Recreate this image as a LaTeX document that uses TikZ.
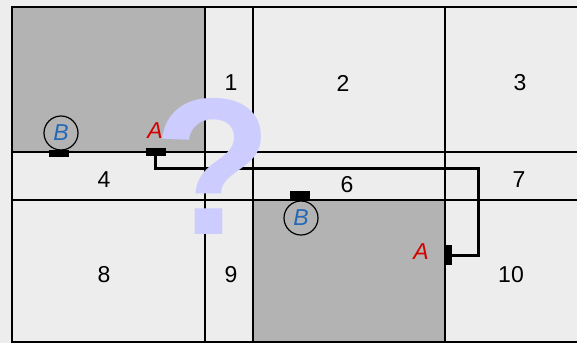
\documentclass[tikz,border=0pt]{standalone}
\usepackage{fontspec}
\setmainfont{Liberation Sans}
\usetikzlibrary{positioning,calc}
\definecolor{floorgrey}{HTML}{EDEDED}
\definecolor{blockgrey}{HTML}{B3B3B3}
\definecolor{portred}{HTML}{D40000}
\definecolor{portblue}{HTML}{2468B8}
\definecolor{askviolet}{RGB}{204,204,255}

\begin{document}
\begin{tikzpicture}[
    x=1pt, y=-1pt,
    every node/.style={font=\fontsize{23}{23}\selectfont, inner sep=0pt},
    wall/.style={line width=2pt, black},
    block/.style={fill=blockgrey},
    pin/.style={fill=black, minimum width=20pt, minimum height=7pt},
    pinv/.style={fill=black, minimum width=7pt, minimum height=20pt},
    porta/.style={text=portred, font=\fontsize{23}{23}\selectfont\itshape},
    portb/.style={circle, draw=black, line width=1.2pt, minimum size=34pt,
      text=portblue, font=\fontsize{23}{23}\selectfont\itshape},
    link/.style={line width=3pt, black},
    ask/.style={text=askviolet, font=\fontsize{195}{195}\selectfont\bfseries}
  ]

  % ---------- fond et blocs occupes ----------------------------------------
  \useasboundingbox[fill=floorgrey] (0,0) rectangle (577,343);
  \fill[block] (12,7) rectangle (205,152);
  \fill[block] (253,200) rectangle (445,342);

  % ---------- grille --------------------------------------------------------
  \draw[wall] (12,7) -- (577,7);
  \draw[wall] (12,152) -- (577,152);
  \draw[wall] (12,200) -- (577,200);
  \draw[wall] (12,342) -- (577,342);
  \draw[wall] (12,6) -- (12,343);
  \draw[wall] (205,6) -- (205,343);
  \draw[wall] (253,6) -- (253,343);
  \draw[wall] (445,6) -- (445,343);

  % ---------- numeros des cases --------------------------------------------
  \node (c1)  at (231,83)  {1};
  \node (c2)  at (343,83)  {2};
  \node (c3)  at (520,83)  {3};
  \node (c4)  at (104,180) {4};
  \node (c6)  at (347,185) {6};
  \node (c7)  at (519,180) {7};
  \node (c8)  at (104,275) {8};
  \node (c9)  at (231,275) {9};
  \node (c10) at (511,275) {10};

  % ---------- ports A et B --------------------------------------------------
  \node[portb] (bone) at (61,133) {B};
  \node[pin]   (bonepin) at (59,153.5) {};
  \node[porta] (aone) at (155,131) {A};
  \node[pin, minimum height=8pt] (aonepin) at (155.5,152) {};

  \node[portb] (btwo) at (301,218) {B};
  \node[pin, minimum height=8pt] (btwopin) at (300,195) {};
  \node[porta] (atwo) at (421,252) {A};
  \node[pinv]  (atwopin) at (448.5,255) {};

  % liaison entre les deux A
  \coordinate (turn) at (478,168);
  \draw[link] (aonepin.center) |- (turn) |- (atwopin.center);

  % ---------- le point d'interrogation par-dessus tout ---------------------
  \node[ask] (query) at (213,166) {?};

\end{tikzpicture}
\end{document}
